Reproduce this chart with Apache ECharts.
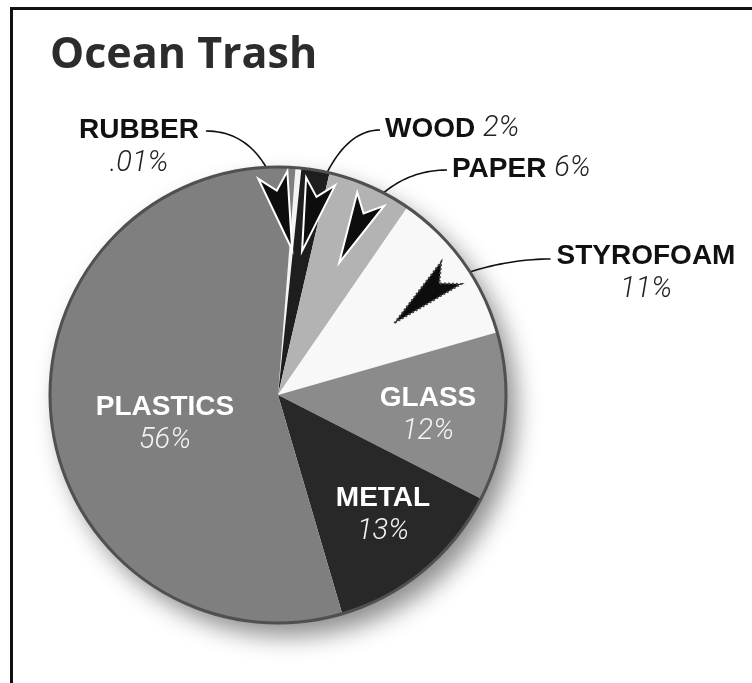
<!DOCTYPE html>
<html><head><meta charset="utf-8">
<script src="https://cdn.jsdelivr.net/npm/echarts@6/dist/echarts.min.js"></script>
<style>html,body{margin:0;padding:0;background:#fff}#c{width:752px;height:683px}</style>
</head><body><div id="c"></div>
<script>
// ---- data ----
const titleText = 'Ocean Trash';
const categories = ['RUBBER', 'WOOD', 'PAPER', 'STYROFOAM', 'GLASS', 'METAL', 'PLASTICS'];
const shares = [0.01, 2, 6, 11, 12, 13, 56];
const shareLabels = ['.01%', '2%', '6%', '11%', '12%', '13%', '56%'];

// ---- styles / layout ----
const sliceColors = ['#f4f4f4', '#1e1e1e', '#b3b3b3', '#f8f8f8', '#8b8b8b', '#282828', '#7f7f7f'];
const CX = 278, CY = 395, R = 228, START = 85.6, MIN_ANGLE = 1.5;
const INSIDE = { GLASS: 1, METAL: 1, PLASTICS: 1 };
const ONE_LINE = { WOOD: 1, PAPER: 1 };
const labelAnchor = {
  RUBBER: { x: 139, y: 113, align: 'center' },
  WOOD: { x: 385, y: 112, align: 'left' },
  PAPER: { x: 452, y: 152, align: 'left' },
  STYROFOAM: { x: 646, y: 239, align: 'center' },
  GLASS: { x: 428, y: 381, align: 'center' },
  METAL: { x: 383, y: 481, align: 'center' },
  PLASTICS: { x: 165, y: 390, align: 'center' }
};
const arrowGeom = {
  RUBBER: { tipR: 0.64, tipSkew: 0.4, backR: 0.965, backSkew: -6.5, stroke: '#fff', bend: 0.1 },
  WOOD: { tipR: 0.64, tipSkew: 0, backR: 0.955, backSkew: 1.8, stroke: '#fff', bend: 0.15 },
  PAPER: { tipR: 0.64, tipSkew: 1, backR: 0.95, backSkew: 1.5, stroke: '#fff', bend: 0.2 },
  STYROFOAM: { tipR: 0.6, tipSkew: 4, backR: 0.93, backSkew: 0.5, stroke: '#444', dash: [2, 2], bend: 0.35 }
};

function sliceAngles() {
  const sum = shares.reduce((a, b) => a + b, 0);
  let rest = 360, big = 0;
  const raw = shares.map(v => {
    const a = v / sum * 360;
    if (a < MIN_ANGLE) { rest -= MIN_ANGLE; return null; }
    big += v; return a;
  });
  let a0 = 90 - START;
  return shares.map((v, i) => {
    const span = raw[i] === null ? MIN_ANGLE : v * rest / big;
    const s = a0; a0 += span;
    return { start: s, end: a0, mid: s + span / 2 };
  });
}
const angles = sliceAngles();
function P(a, r) { const t = a * Math.PI / 180; return [CX + r * Math.sin(t), CY - r * Math.cos(t)]; }
function arrowFor(i) {
  const g = arrowGeom[categories[i]], ang = angles[i];
  const tip = P(ang.mid + g.tipSkew, R * g.tipR);
  const back = P(ang.mid + g.backSkew, R * g.backR);
  const dx = tip[0] - back[0], dy = tip[1] - back[1], L = Math.hypot(dx, dy);
  const ux = dx / L, uy = dy / L, nx = -uy, ny = ux, W = 15, N = 16;
  const notch = [back[0] + ux * N, back[1] + uy * N];
  return {
    notch, g, ux, uy,
    pts: [tip, [back[0] + nx * W, back[1] + ny * W], notch, [back[0] - nx * W, back[1] - ny * W]]
  };
}
// quadratic curve sampled into a polyline for the guide line
function curve(p0, c, p1) {
  const pts = [];
  for (let k = 0; k <= 24; k++) {
    const t = k / 24, s = 1 - t;
    pts.push([s * s * p0[0] + 2 * s * t * c[0] + t * t * p1[0], s * s * p0[1] + 2 * s * t * c[1] + t * t * p1[1]]);
  }
  return pts;
}

const NAME_FONT = '"Liberation Sans", Arial, sans-serif';
const PCT_FONT = 'Roboto, "Liberation Sans", sans-serif';
const rich = {
  n: { fontFamily: NAME_FONT, fontWeight: 'bold', fontSize: 28, color: '#111', lineHeight: 34 },
  p: { fontFamily: PCT_FONT, fontStyle: 'italic', fontWeight: 300, fontSize: 29, color: '#222', lineHeight: 34 },
  ni: { fontFamily: NAME_FONT, fontWeight: 'bold', fontSize: 28, color: '#fff', lineHeight: 34 },
  pi: { fontFamily: PCT_FONT, fontStyle: 'italic', fontWeight: 300, fontSize: 29, color: '#f4f4f4', lineHeight: 34 }
};

const chart = echarts.init(document.getElementById('c'), null, { renderer: 'canvas' });

const graphics = [
  { type: 'circle', z: 0, shape: { cx: CX, cy: CY, r: R }, style: { fill: '#fff', shadowBlur: 24, shadowColor: 'rgba(0,0,0,0.45)', shadowOffsetX: 10, shadowOffsetY: 13 } },
  { type: 'circle', z: 50, shape: { cx: CX, cy: CY, r: R }, style: { fill: null, stroke: '#505050', lineWidth: 3 } },
  { type: 'line', z: 60, shape: { x1: 10, y1: 8.5, x2: 752, y2: 8.5 }, style: { stroke: '#111', lineWidth: 3 } },
  { type: 'line', z: 60, shape: { x1: 11.5, y1: 7, x2: 11.5, y2: 683 }, style: { stroke: '#111', lineWidth: 3 } }
];
categories.forEach((name, i) => {
  if (!arrowGeom[name]) return;
  const a = arrowFor(i);
  graphics.push({ type: 'polygon', z: 100, shape: { points: a.pts }, style: { fill: '#0d0d0d', stroke: a.g.stroke, lineWidth: 2, lineDash: a.g.dash || null, lineJoin: 'miter' } });
});

chart.setOption({
  animation: false,
  backgroundColor: '#fff',
  title: {
    text: titleText, left: 45, top: 29,
    textStyle: { fontFamily: '"Open Sans", sans-serif', fontWeight: 'bold', fontSize: 43, color: '#2c2c2c' }
  },
  graphic: graphics,
  series: [{
    type: 'pie',
    center: [CX, CY],
    radius: R,
    startAngle: START,
    minAngle: MIN_ANGLE,
    clockwise: true,
    avoidLabelOverlap: false,
    z: 2,
    itemStyle: { borderWidth: 0 },
    emphasis: { disabled: true },
    data: categories.map((name, i) => ({
      name, value: shares[i],
      itemStyle: { color: sliceColors[i] },
      label: { position: INSIDE[name] ? 'inside' : 'outside' },
      labelLine: { show: !INSIDE[name], smooth: false, lineStyle: { color: '#111', width: 1.6 } }
    })),
    label: {
      show: true,
      formatter: p => {
        const name = categories[p.dataIndex], pct = shareLabels[p.dataIndex];
        const inside = !!INSIDE[name];
        const n = inside ? 'ni' : 'n', q = inside ? 'pi' : 'p';
        if (ONE_LINE[name]) return '{' + n + '|' + name + ' }{' + q + '|' + pct + '}';
        return '{' + n + '|' + name + '}\n{' + q + '|' + pct + '}';
      },
      rich
    },
    labelLayout: params => {
      const name = categories[params.dataIndex];
      const an = labelAnchor[name];
      const out = { x: an.x, y: an.y, align: an.align, verticalAlign: 'top' };
      if (arrowGeom[name]) {
        const w = params.labelRect.width;
        let start;
        if (name === 'RUBBER') start = [an.x + w / 2 + 7, an.y + 18];
        else if (name === 'STYROFOAM') start = [an.x - w / 2 - 6, an.y + 20];
        else start = [an.x - 5, an.y + 18];
        const a = arrowFor(params.dataIndex);
        const end = a.notch;
        // control point: continue backwards along the arrow axis up to the label's height
        const k = (start[1] - end[1]) / (a.uy || 1e-6);
        let c = [end[0] + a.ux * k, start[1]];
        c = [c[0] + (start[0] - c[0]) * a.g.bend, c[1]];
        out.labelLinePoints = curve(end, c, start);
      }
      return out;
    }
  }]
});
</script>
</body></html>
